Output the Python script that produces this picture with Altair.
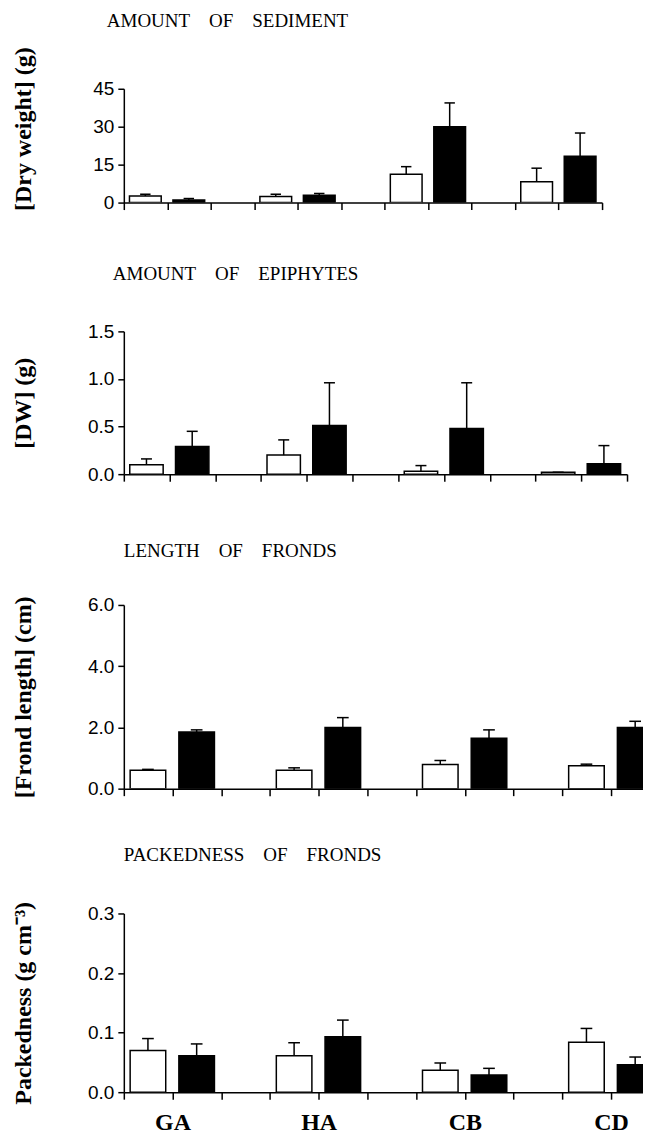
import altair as alt
import pandas as pd

sites = ["GA", "HA", "CB", "CD"]
groups = ["open", "filled"]

# Amount of sediment, dry weight (g)
sed_open = [2.6, 2.4, 11.2, 8.2]
sed_open_se = [0.7, 0.9, 3.0, 5.4]
sed_filled = [1.0, 2.9, 30.0, 18.3]
sed_filled_se = [0.6, 0.7, 9.4, 9.2]

# Amount of epiphytes, DW (g)
epi_open = [0.10, 0.20, 0.03, 0.02]
epi_open_se = [0.06, 0.16, 0.06, 0.0]
epi_filled = [0.29, 0.51, 0.48, 0.11]
epi_filled_se = [0.16, 0.45, 0.48, 0.19]

# Length of fronds (cm)
len_open = [0.60, 0.60, 0.79, 0.75]
len_open_se = [0.03, 0.08, 0.13, 0.05]
len_filled = [1.85, 2.00, 1.65, 2.00]
len_filled_se = [0.07, 0.32, 0.27, 0.20]

# Packedness of fronds (g cm-3)
pack_open = [0.070, 0.061, 0.037, 0.084]
pack_open_se = [0.020, 0.022, 0.012, 0.023]
pack_filled = [0.061, 0.093, 0.029, 0.046]
pack_filled_se = [0.020, 0.028, 0.011, 0.013]


def make_df(op, op_se, fi, fi_se):
    rows = []
    for i, s in enumerate(sites):
        rows.append(dict(site=s, si=i, group=groups[0], gi=0, mean=op[i], se=op_se[i]))
        rows.append(dict(site=s, si=i, group=groups[1], gi=1, mean=fi[i], se=fi_se[i]))
    return pd.DataFrame(rows)


label_expr = " : ".join(
    f"datum.value == {3 * i + 1} ? '{s}'" for i, s in enumerate(sites)
) + " : ''"


def panel(df, title, title_dx, title_offset, ytitle, ymax, yvals, yfmt,
          width, height, xmax, show_labels, ytitle_shift=0):
    base = alt.Chart(df).transform_calculate(
        slot="datum.si * 3 + datum.gi"
    ).transform_calculate(
        x0="datum.slot + 0.13",
        x1="datum.slot + 0.86",
        xc="datum.slot + 0.495",
        c0="datum.slot + 0.375",
        c1="datum.slot + 0.615",
        top="datum.mean + datum.se",
        z="0",
    )
    ticks = [v for v in range(12) if v <= xmax]
    xaxis = alt.Axis(
        values=ticks, title=None, grid=False, tickSize=7, tickWidth=1.5,
        domainWidth=1.5, labels=show_labels, labelExpr=label_expr,
        labelFont="Liberation Serif", labelFontSize=24, labelFontWeight="bold",
        labelPadding=11, labelAngle=0,
    )
    yaxis = alt.Axis(
        values=yvals, format=yfmt, title=ytitle, grid=False, tickSize=6,
        tickWidth=1.5, domainWidth=1.5, labelFont="Liberation Sans",
        labelFontSize=19, labelPadding=4,
        titleFont="Liberation Serif", titleFontSize=24, titleFontWeight="bold",
        titleX=-88, titleY=height / 2 + ytitle_shift,
    )
    xs = alt.Scale(domain=[0, xmax], nice=False, zero=False)
    ys = alt.Scale(domain=[0, ymax], nice=False)

    bars = base.mark_rect(stroke="black", strokeWidth=1.5, clip=True).encode(
        x=alt.X("x0:Q", scale=xs, axis=xaxis),
        x2="x1:Q",
        y=alt.Y("mean:Q", scale=ys, axis=yaxis),
        y2="z:Q",
        fill=alt.Fill("group:N", scale=alt.Scale(domain=groups, range=["white", "black"]), legend=None),
    )
    stems = base.mark_rule(color="black", strokeWidth=1.5).encode(
        x=alt.X("xc:Q", scale=xs, axis=xaxis),
        y=alt.Y("mean:Q", scale=ys, axis=yaxis),
        y2="top:Q",
    )
    caps = base.mark_rule(color="black", strokeWidth=1.5).encode(
        x=alt.X("c0:Q", scale=xs, axis=xaxis),
        x2="c1:Q",
        y=alt.Y("top:Q", scale=ys, axis=yaxis),
    )
    return alt.layer(bars, stems, caps).properties(
        width=width, height=height,
        title=alt.TitleParams(
            title, anchor="start", frame="group", dx=title_dx, offset=title_offset,
            font="Liberation Serif", fontSize=19, fontWeight="normal",
            baseline="alphabetic", color="black",
        ),
    )


p1 = panel(make_df(sed_open, sed_open_se, sed_filled, sed_filled_se),
           "AMOUNT\u2003OF\u2003SEDIMENT", -17, 1, "[Dry weight] (g)",
           45, [0, 15, 30, 45], "d", 479, 114, 11, False, ytitle_shift=-17)
p2 = panel(make_df(epi_open, epi_open_se, epi_filled, epi_filled_se),
           "AMOUNT\u2003OF\u2003EPIPHYTES", -11, 23, "[DW] (g)",
           1.5, [0, 0.5, 1.0, 1.5], ".1f", 504, 143, 11, False)
p3 = panel(make_df(len_open, len_open_se, len_filled, len_filled_se),
           "LENGTH\u2003OF\u2003FRONDS", 0, 20, "[Frond length] (cm)",
           6, [0, 2, 4, 6], ".1f", 520, 184, 520 / 48.8, False)
p4 = panel(make_df(pack_open, pack_open_se, pack_filled, pack_filled_se),
           "PACKEDNESS\u2003OF\u2003FRONDS", 0, 21, "Packedness (g cm\u207b\u00b3)",
           0.3, [0, 0.1, 0.2, 0.3], ".1f", 520, 179, 520 / 48.8, True)

inner1 = alt.vconcat(p1, p2, spacing=53)
inner2 = alt.vconcat(inner1, p3, spacing=57)
chart = alt.vconcat(inner2, p4, spacing=47).properties(
    padding={"left": 3, "top": 3, "right": 0, "bottom": 0}
).configure_view(stroke=None).configure_axis(
    domainColor="black", tickColor="black", labelColor="black", titleColor="black"
)

chart.save("out.html", embed_options={"renderer": "svg", "actions": False})
